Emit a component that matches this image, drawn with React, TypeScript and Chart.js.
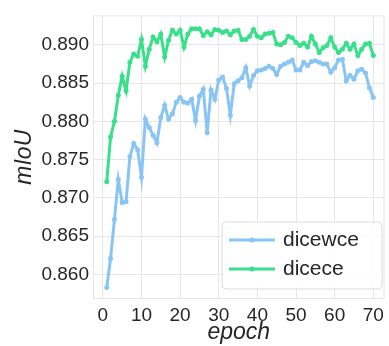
import React, { useEffect, useRef } from 'react';
import { Chart, registerables } from 'chart.js';

Chart.register(...registerables);

const epochs = [
  1, 2, 3, 4, 5, 6, 7, 8, 9, 10, 11, 12, 13, 14, 15, 16, 17, 18, 19, 20,
  21, 22, 23, 24, 25, 26, 27, 28, 29, 30, 31, 32, 33, 34, 35, 36, 37, 38, 39, 40,
  41, 42, 43, 44, 45, 46, 47, 48, 49, 50, 51, 52, 53, 54, 55, 56, 57, 58, 59, 60,
  61, 62, 63, 64, 65, 66, 67, 68, 69, 70,
];

const dicewce = [
  0.8583, 0.8621, 0.8672, 0.8724, 0.8694, 0.8695, 0.8754, 0.8771, 0.8763, 0.8727,
  0.8803, 0.8792, 0.8782, 0.8772, 0.8805, 0.8821, 0.8803, 0.881, 0.8825, 0.8831,
  0.8825, 0.8824, 0.8829, 0.8801, 0.8833, 0.8842, 0.8785, 0.8841, 0.8829, 0.8854,
  0.8858, 0.8843, 0.8808, 0.8849, 0.8853, 0.8857, 0.887, 0.8846, 0.886, 0.8866,
  0.8867, 0.8869, 0.8872, 0.8869, 0.8861, 0.8872, 0.8875, 0.8877, 0.888, 0.8867,
  0.8867, 0.8877, 0.8873, 0.8878, 0.8879, 0.8877, 0.8875, 0.8875, 0.8864, 0.887,
  0.888, 0.8881, 0.8853, 0.886, 0.8855, 0.8866, 0.8868, 0.8863, 0.8844, 0.8831,
];

const dicece = [
  0.8721, 0.878, 0.88, 0.8834, 0.8859, 0.884, 0.8877, 0.8888, 0.8885, 0.8907,
  0.8872, 0.8894, 0.891, 0.8904, 0.8914, 0.8884, 0.8906, 0.8919, 0.8914, 0.8919,
  0.8897, 0.8914, 0.8921, 0.8921, 0.8921, 0.8912, 0.8917, 0.8913, 0.892, 0.8919,
  0.8916, 0.8918, 0.8913, 0.8918, 0.8919, 0.8907, 0.8907, 0.8911, 0.892, 0.8911,
  0.8909, 0.8914, 0.8915, 0.8916, 0.8901, 0.89, 0.8903, 0.8911, 0.8909, 0.8903,
  0.8899, 0.8902, 0.8897, 0.8911, 0.8901, 0.889, 0.8896, 0.8899, 0.8909, 0.8897,
  0.889, 0.8894, 0.8902, 0.8894, 0.8901, 0.8886, 0.8894, 0.8901, 0.8902, 0.8886,
];

const seriesNames = ['dicewce', 'dicece'];
const yTicks = [0.86, 0.865, 0.87, 0.875, 0.88, 0.885, 0.89];
const xTicks = [0, 10, 20, 30, 40, 50, 60, 70];

const BLUE = '#88C5F4';
const GREEN = '#38E08B';
const FONT = '"Liberation Sans", Arial, sans-serif';
const GRID = '#e6e6e6';
const TEXT = '#262626';

const framePlugin = {
  id: 'frame',
  beforeDatasetsDraw(chart: any) {
    const { ctx, chartArea } = chart;
    ctx.save();
    ctx.strokeStyle = GRID;
    ctx.lineWidth = 1;
    ctx.strokeRect(chartArea.left + 0.5, chartArea.top + 0.5, chartArea.right - chartArea.left - 1, chartArea.bottom - chartArea.top - 1);
    ctx.restore();
  },
};

const legendPlugin = {
  id: 'customLegend',
  afterDraw(chart: any) {
    const { ctx } = chart;
    const bx = 222, by = 222, bw = 160, bh = 67, r = 4;
    ctx.save();
    ctx.beginPath();
    ctx.moveTo(bx + r, by);
    ctx.lineTo(bx + bw - r, by);
    ctx.quadraticCurveTo(bx + bw, by, bx + bw, by + r);
    ctx.lineTo(bx + bw, by + bh - r);
    ctx.quadraticCurveTo(bx + bw, by + bh, bx + bw - r, by + bh);
    ctx.lineTo(bx + r, by + bh);
    ctx.quadraticCurveTo(bx, by + bh, bx, by + bh - r);
    ctx.lineTo(bx, by + r);
    ctx.quadraticCurveTo(bx, by, bx + r, by);
    ctx.closePath();
    ctx.fillStyle = 'rgba(255,255,255,0.85)';
    ctx.fill();
    ctx.strokeStyle = '#dcdcdc';
    ctx.lineWidth = 1;
    ctx.stroke();
    chart.data.datasets.forEach((ds: any, i: number) => {
      const y = 240 + i * 29;
      ctx.strokeStyle = ds.borderColor;
      ctx.lineWidth = 3;
      ctx.lineCap = 'butt';
      ctx.beginPath();
      ctx.moveTo(229, y);
      ctx.lineTo(275, y);
      ctx.stroke();
      ctx.fillStyle = ds.borderColor;
      ctx.beginPath();
      ctx.arc(252, y, 2.5, 0, Math.PI * 2);
      ctx.fill();
      ctx.fillStyle = TEXT;
      ctx.font = `21px ${FONT}`;
      ctx.textBaseline = 'middle';
      ctx.textAlign = 'left';
      ctx.fillText(ds.label, 283, y);
    });
    ctx.restore();
  },
};

export default function App() {
  const ref = useRef<HTMLCanvasElement | null>(null);
  useEffect(() => {
    document.body.style.margin = '0';
    if (!ref.current) return;
    const mk = (vals: number[]) => vals.map((v, i) => ({ x: epochs[i], y: v }));
    const chart = new Chart(ref.current, {
      type: 'line',
      data: {
        datasets: [
          {
            label: seriesNames[0],
            data: mk(dicewce),
            borderColor: BLUE,
            backgroundColor: BLUE,
            borderWidth: 3,
            pointRadius: 2.5,
            pointBorderWidth: 0,
            pointBackgroundColor: BLUE,
            tension: 0,
          },
          {
            label: seriesNames[1],
            data: mk(dicece),
            borderColor: GREEN,
            backgroundColor: GREEN,
            borderWidth: 3,
            pointRadius: 2.5,
            pointBorderWidth: 0,
            pointBackgroundColor: GREEN,
            tension: 0,
          },
        ],
      },
      options: {
        animation: false,
        responsive: false,
        maintainAspectRatio: false,
        layout: { padding: { top: 9, right: 0, left: 0, bottom: 0 } },
        plugins: { legend: { display: false }, tooltip: { enabled: false } },
        scales: {
          x: {
            type: 'linear',
            min: -2.55,
            max: 72.9,
            afterBuildTicks: (s: any) => { s.ticks = xTicks.map((v) => ({ value: v })); },
            afterFit: (s: any) => { s.height = 47; },
            grid: { color: GRID, lineWidth: 1, drawTicks: false },
            border: { display: false },
            ticks: {
              padding: 5,
              color: TEXT,
              font: { family: FONT, size: 19 },
              maxRotation: 0,
              autoSkip: false,
            },
            title: {
              display: true,
              text: 'epoch',
              color: TEXT,
              font: { family: FONT, size: 23, style: 'italic' },
              padding: { top: 4, bottom: 0 },
            },
          },
          y: {
            type: 'linear',
            min: 0.85681,
            max: 0.89383,
            afterBuildTicks: (s: any) => { s.ticks = yTicks.map((v) => ({ value: v })); },
            afterFit: (s: any) => { s.width = 93; },
            grid: { color: GRID, lineWidth: 1, drawTicks: false },
            border: { display: false },
            ticks: {
              padding: 4,
              color: TEXT,
              font: { family: FONT, size: 19 },
              callback: (v: any) => Number(v).toFixed(3),
              autoSkip: false,
            },
            title: {
              display: true,
              text: 'mIoU',
              color: TEXT,
              font: { family: FONT, size: 23, style: 'italic' },
              padding: { top: 11, bottom: 0 },
            },
          },
        },
      },
      plugins: [framePlugin, legendPlugin],
    });
    return () => chart.destroy();
  }, []);
  return (
    <div style={{ width: 389, height: 346, background: '#fff' }}>
      <canvas ref={ref} width={389} height={346} style={{ display: 'block' }} />
    </div>
  );
}
